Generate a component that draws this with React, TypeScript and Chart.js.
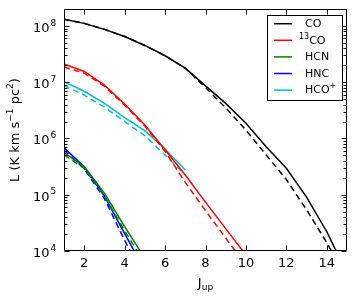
import React, { useEffect, useRef } from 'react';
import { Chart, registerables } from 'chart.js';

Chart.register(...registerables);

const J_CO = [1, 2, 3, 4, 5, 6, 7, 8, 9, 10, 11, 12, 13, 14, 15];
const CO_SOLID = [1.31e8, 1.11e8, 8.7e7, 6.5e7, 4.5e7, 2.95e7, 1.78e7, 8.6e6, 4.2e6, 1.86e6, 7.1e5, 2.95e5, 9.1e4, 2.2e4, 4.0e3];
const CO_DASHED = [1.31e8, 1.11e8, 8.7e7, 6.5e7, 4.5e7, 2.95e7, 1.78e7, 8.0e6, 3.5e6, 1.41e6, 5.1e5, 1.86e5, 5.4e4, 1.41e4, 3.2e3];

const J_13CO = [1, 2, 3, 4, 5, 6, 7, 8, 9, 10];
const CO13_SOLID = [2.1e7, 1.55e7, 8.9e6, 4.1e6, 1.74e6, 6.3e5, 2.24e5, 7.4e4, 2.5e4, 8.5e3];
const CO13_DASHED = [1.86e7, 1.45e7, 8.5e6, 3.9e6, 1.66e6, 5.9e5, 1.66e5, 5.2e4, 1.7e4, 5.6e3];

const J_DENSE = [1, 2, 3, 4, 5];
const HCN_SOLID = [5.6e5, 3.16e5, 1.07e5, 2.7e4, 7.4e3];
const HCN_DASHED = [5.1e5, 2.95e5, 9.5e4, 2.3e4, 6.0e3];
const HNC_SOLID = [6.8e5, 3.16e5, 9.5e4, 2.04e4, 4.5e3];
const HNC_DASHED = [6.2e5, 2.9e5, 8.5e4, 1.55e4, 3.2e3];

const J_HCOP = [1, 2, 3, 4, 5, 6, 7];
const HCOP_SOLID = [1.02e7, 6.9e6, 4.2e6, 2.34e6, 1.38e6, 6.5e5, 2.75e5];
const HCOP_DASHED = [8.7e6, 5.9e6, 3.6e6, 2.0e6, 1.12e6, 5.1e5, 2.24e5];

const X_TICKS = [2, 4, 6, 8, 10, 12, 14];
const X_TICK_LABELS = ['2', '4', '6', '8', '10', '12', '14'];
const Y_TICKS = [1e4, 1e5, 1e6, 1e7, 1e8];
const Y_TICK_EXPONENTS = ['4', '5', '6', '7', '8'];
const X_MIN = 1;
const X_MAX = 15;
const Y_MIN = 1e4;
const Y_MAX = 2e8;

const COLORS = {
  CO: '#000000',
  CO13: '#ff0000',
  HCN: '#008000',
  HNC: '#0000ff',
  HCOP: '#00bfbf',
};

const FONT = '"DejaVu Sans", sans-serif';

const pts = (xs: number[], ys: number[]) => xs.map((x, i) => ({ x, y: ys[i] }));

const mk = (label: string, xs: number[], ys: number[], color: string, dashed: boolean) => ({
  label,
  data: pts(xs, ys),
  borderColor: color,
  backgroundColor: color,
  borderWidth: 1.5,
  borderDash: dashed ? [6, 4] : [],
  pointRadius: 0,
  tension: 0,
  fill: false,
  clip: 0,
});

type Seg = { t: string; sup?: boolean; sub?: boolean };

function drawSegs(ctx: CanvasRenderingContext2D, segs: Seg[], x: number, y: number, size: number, align: 'left' | 'center') {
  const small = Math.round(size * 0.7);
  const widths = segs.map((s) => {
    ctx.font = `${s.sup || s.sub ? small : size}px ${FONT}`;
    return ctx.measureText(s.t).width;
  });
  const total = widths.reduce((a, b) => a + b, 0);
  let cx = align === 'center' ? x - total / 2 : x;
  ctx.textAlign = 'left';
  ctx.textBaseline = 'middle';
  segs.forEach((s, i) => {
    ctx.font = `${s.sup || s.sub ? small : size}px ${FONT}`;
    const dy = s.sup ? -size * 0.38 : s.sub ? size * 0.3 : 0;
    ctx.fillText(s.t, cx, y + dy);
    cx += widths[i];
  });
}

const framePlugin = {
  id: 'framePlugin',
  afterDraw(chart: any) {
    const { ctx, chartArea: a, scales } = chart;
    const xs = scales.x;
    const ys = scales.y;
    ctx.save();
    ctx.strokeStyle = '#000';
    ctx.fillStyle = '#000';
    ctx.lineWidth = 1;
    const L = Math.round(a.left) + 0.5;
    const R = Math.round(a.right) - 0.5;
    const T = Math.round(a.top) + 0.5;
    const B = Math.round(a.bottom) - 0.5;
    ctx.beginPath();
    ctx.rect(L, T, R - L, B - T);
    ctx.stroke();

    ctx.beginPath();
    X_TICKS.forEach((v) => {
      const px = Math.round(xs.getPixelForValue(v)) + 0.5;
      ctx.moveTo(px, B);
      ctx.lineTo(px, B - 5);
      ctx.moveTo(px, T);
      ctx.lineTo(px, T + 5);
    });
    Y_TICKS.forEach((v) => {
      const py = Math.round(ys.getPixelForValue(v)) + 0.5;
      ctx.moveTo(L, py);
      ctx.lineTo(L + 5, py);
      ctx.moveTo(R, py);
      ctx.lineTo(R - 5, py);
    });
    Y_TICKS.forEach((v) => {
      for (let m = 2; m <= 9; m++) {
        const val = v * m;
        if (val > Y_MAX) continue;
        const py = Math.round(ys.getPixelForValue(val)) + 0.5;
        ctx.moveTo(L, py);
        ctx.lineTo(L + 3, py);
        ctx.moveTo(R, py);
        ctx.lineTo(R - 3, py);
      }
    });
    ctx.stroke();

    // x tick labels
    ctx.fillStyle = '#000';
    ctx.font = `13px ${FONT}`;
    ctx.textAlign = 'center';
    ctx.textBaseline = 'middle';
    X_TICKS.forEach((v, i) => {
      ctx.fillText(X_TICK_LABELS[i], xs.getPixelForValue(v), a.bottom + 12.5);
    });

    // y tick labels: 10^n
    Y_TICKS.forEach((v, i) => {
      const py = ys.getPixelForValue(v) + 2.5;
      ctx.font = `13px ${FONT}`;
      ctx.textAlign = 'right';
      ctx.textBaseline = 'middle';
      ctx.fillText('10', a.left - 14.5, py);
      ctx.font = `9px ${FONT}`;
      ctx.textAlign = 'left';
      ctx.fillText(Y_TICK_EXPONENTS[i], a.left - 13.5, py - 5.2);
    });

    // x title
    drawSegs(ctx, [{ t: 'J' }, { t: 'up', sub: true }], (a.left + a.right) / 2, 284, 13, 'center');

    // y title
    ctx.save();
    ctx.translate(15.5, (a.top + a.bottom) / 2);
    ctx.rotate(-Math.PI / 2);
    drawSegs(
      ctx,
      [{ t: 'L (K km s' }, { t: '−1', sup: true }, { t: ' pc' }, { t: '2', sup: true }, { t: ')' }],
      0,
      0,
      13,
      'center'
    );
    ctx.restore();

    // legend
    const bx = 267.5, by = 15.5, bw = 75, bh = 85;
    ctx.fillStyle = '#fff';
    ctx.fillRect(bx, by, bw, bh);
    ctx.strokeStyle = '#000';
    ctx.lineWidth = 1;
    ctx.strokeRect(bx, by, bw, bh);
    const entries: { color: string; segs: Seg[]; x: number }[] = [
      { color: COLORS.CO, segs: [{ t: 'CO' }], x: 305 },
      { color: COLORS.CO13, segs: [{ t: '13', sup: true }, { t: 'CO' }], x: 299 },
      { color: COLORS.HCN, segs: [{ t: 'HCN' }], x: 305 },
      { color: COLORS.HNC, segs: [{ t: 'HNC' }], x: 305 },
      { color: COLORS.HCOP, segs: [{ t: 'HCO' }, { t: '+', sup: true }], x: 305 },
    ];
    entries.forEach((e, i) => {
      const ey = 23.7 + i * 16.6;
      ctx.strokeStyle = e.color;
      ctx.lineWidth = 1.5;
      ctx.beginPath();
      ctx.moveTo(274, ey);
      ctx.lineTo(292, ey);
      ctx.stroke();
      ctx.fillStyle = '#000';
      drawSegs(ctx, e.segs, e.x, ey + 0.5, 11, 'left');
    });
    ctx.restore();
  },
};

export default function App() {
  const ref = useRef<HTMLCanvasElement | null>(null);
  useEffect(() => {
    if (!ref.current) return;
    const chart = new Chart(ref.current, {
      type: 'line',
      data: {
        datasets: [
          mk('CO', J_CO, CO_SOLID, COLORS.CO, false),
          mk('CO dashed', J_CO, CO_DASHED, COLORS.CO, true),
          mk('13CO', J_13CO, CO13_SOLID, COLORS.CO13, false),
          mk('13CO dashed', J_13CO, CO13_DASHED, COLORS.CO13, true),
          mk('HCN', J_DENSE, HCN_SOLID, COLORS.HCN, false),
          mk('HCN dashed', J_DENSE, HCN_DASHED, COLORS.HCN, true),
          mk('HNC', J_DENSE, HNC_SOLID, COLORS.HNC, false),
          mk('HNC dashed', J_DENSE, HNC_DASHED, COLORS.HNC, true),
          mk('HCO+', J_HCOP, HCOP_SOLID, COLORS.HCOP, false),
          mk('HCO+ dashed', J_HCOP, HCOP_DASHED, COLORS.HCOP, true),
        ] as any,
      },
      options: {
        animation: false,
        responsive: false,
        devicePixelRatio: 1,
        layout: { padding: { left: 0, right: 9, top: 9, bottom: 0 } },
        plugins: { legend: { display: false }, tooltip: { enabled: false } },
        scales: {
          x: {
            type: 'linear',
            min: X_MIN,
            max: X_MAX,
            grid: { display: false, drawTicks: false },
            border: { display: false },
            afterBuildTicks: (s: any) => {
              s.ticks = X_TICKS.map((v) => ({ value: v }));
            },
            afterFit: (s: any) => {
              s.height = 46;
            },
            ticks: { display: false },
          },
          y: {
            type: 'logarithmic',
            min: Y_MIN,
            max: Y_MAX,
            grid: { display: false, drawTicks: false },
            border: { display: false },
            afterBuildTicks: (s: any) => {
              s.ticks = Y_TICKS.map((v) => ({ value: v }));
            },
            afterFit: (s: any) => {
              s.width = 64;
            },
            ticks: { display: false },
          },
        },
      },
      plugins: [framePlugin],
    } as any);
    return () => chart.destroy();
  }, []);
  return (
    <div style={{ position: 'absolute', left: 0, top: 0, width: 356, height: 297, background: '#fff' }}>
      <canvas ref={ref} width={356} height={297} style={{ display: 'block' }} />
    </div>
  );
}
